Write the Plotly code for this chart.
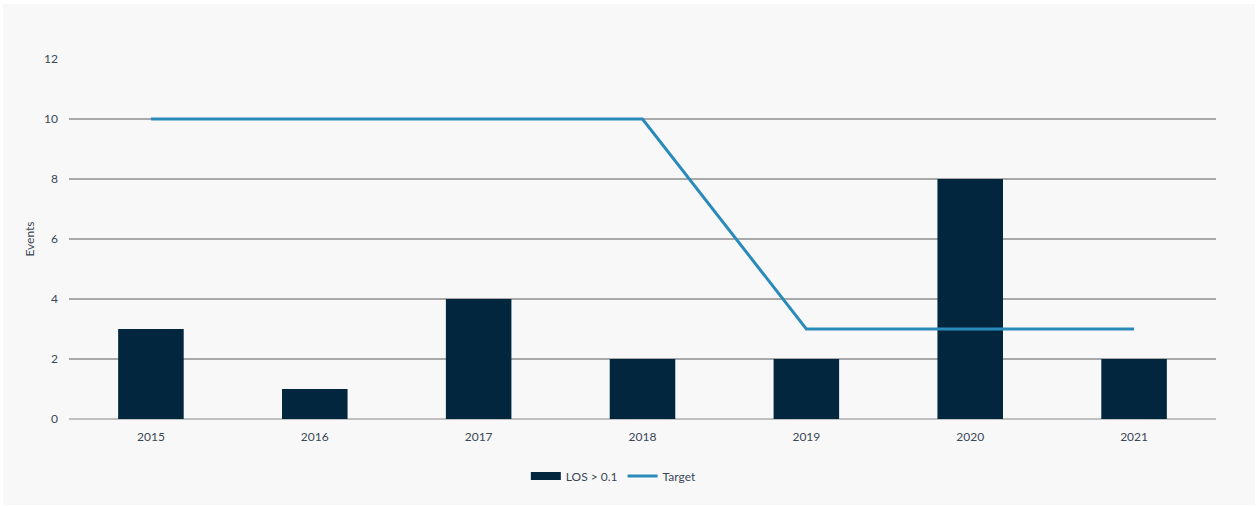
import plotly.graph_objects as go

years = ["2015", "2016", "2017", "2018", "2019", "2020", "2021"]
los_events = [3, 1, 4, 2, 2, 8, 2]
target = [10, 10, 10, 10, 3, 3, 3]
y_ticks = [0, 2, 4, 6, 8, 10, 12]

bar_color = "#03263f"
line_color = "#2a8bba"
text_color = "#3a4756"
grid_color = "#a9a9a9"
font_family = "Lato, 'Open Sans', sans-serif"

fig = go.Figure()
fig.add_trace(go.Bar(
    x=years, y=los_events, name="LOS > 0.1",
    marker=dict(color=bar_color, line=dict(width=0)),
    width=0.4, showlegend=False, legendgroup="los",
))
# wide flat swatch for the bar series in the legend
fig.add_trace(go.Scatter(
    x=[None], y=[None], name="LOS > 0.1", mode="lines",
    line=dict(color=bar_color, width=8), legendgroup="los",
))
fig.add_trace(go.Scatter(
    x=years, y=target, name="Target", mode="lines",
    line=dict(color=line_color, width=3),
))

# light panel behind the chart, inset from the page edge
fig.add_shape(
    type="rect", xref="paper", yref="paper",
    x0=-0.0575, x1=1.034, y0=-0.239, y1=1.153,
    fillcolor="#f8f8f8", line=dict(width=0), layer="below",
)

fig.update_layout(
    width=1258, height=506,
    margin=dict(l=69, r=42, t=59, b=87),
    paper_bgcolor="white",
    plot_bgcolor="rgba(0,0,0,0)",
    font=dict(family=font_family, size=12, color=text_color),
    showlegend=True,
    legend=dict(
        orientation="h", x=0.475, xanchor="center", y=-0.158, yanchor="middle",
        font=dict(size=12, color=text_color), bgcolor="rgba(0,0,0,0)",
        itemwidth=30,
    ),
    xaxis=dict(
        type="category", showgrid=False, zeroline=False,
        showline=False, ticks="", ticklabelstandoff=9, tickfont=dict(size=12),
    ),
    yaxis=dict(
        range=[0, 12], tickvals=y_ticks, showgrid=True,
        gridcolor=grid_color, gridwidth=1.6, zeroline=True,
        zerolinecolor="#c0c0c0", zerolinewidth=2, showline=False,
        ticks="", ticklabelstandoff=10, tickfont=dict(size=12),
        title=dict(text="Events", font=dict(size=12), standoff=6),
    ),
)

fig.write_html("out.html")
